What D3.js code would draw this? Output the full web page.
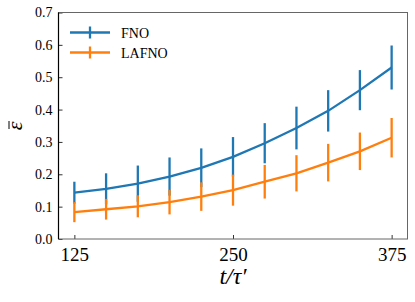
<!DOCTYPE html>
<html>
<head>
<meta charset="utf-8">
<script src="https://cdn.jsdelivr.net/npm/d3@7"></script>
<style>
  body { margin: 0; background: #fff; }
  svg text { font-family: "Liberation Serif", "Times New Roman", "DejaVu Serif", serif; }
</style>
</head>
<body>
<div id="chart"></div>
<script>
// time steps t/tau'
const steps = [125, 150, 175, 200, 225, 250, 275, 300, 325, 350, 375];

// mean error and spread
const fnoMean = [0.143, 0.155, 0.171, 0.193, 0.220, 0.254, 0.296, 0.343, 0.396, 0.460, 0.530];
const fnoErr = [0.034, 0.048, 0.056, 0.059, 0.060, 0.061, 0.062, 0.066, 0.064, 0.062, 0.068];
const lafnoMean = [0.083, 0.092, 0.101, 0.114, 0.131, 0.151, 0.177, 0.203, 0.236, 0.271, 0.313];
const lafnoErr = [0.031, 0.032, 0.034, 0.038, 0.044, 0.048, 0.052, 0.056, 0.058, 0.058, 0.061];

const xTicks = [125, 250, 375];
const yTicks = [0, 0.1, 0.2, 0.3, 0.4, 0.5, 0.6, 0.7];

const series = [
    { name: "FNO", mean: fnoMean, err: fnoErr, color: "#1f77b4" },
    { name: "LAFNO", mean: lafnoMean, err: lafnoErr, color: "#ff7f0e" },
];

const width = 415, height = 302;
const margin = { top: 12.5, right: 7.5, bottom: 63, left: 58.5 };
const innerW = width - margin.left - margin.right;
const innerH = height - margin.top - margin.bottom;

const svg = d3.select("#chart").append("svg")
    .attr("width", width)
    .attr("height", height);

const chart = svg.append("g")
    .attr("transform", `translate(${margin.left},${margin.top})`);

const xScale = d3.scaleLinear().domain([112.5, 387.5]).range([0, innerW]);
const yScale = d3.scaleLinear().domain([0, 0.7]).range([innerH, 0]);

// axes with inward ticks
const xAxis = chart.append("g")
    .attr("transform", `translate(0,${innerH})`)
    .call(d3.axisBottom(xScale).tickValues(xTicks).tickSize(-4).tickPadding(8).tickFormat(d3.format("d")));
xAxis.select(".domain").remove();
xAxis.selectAll(".tick line").attr("stroke", "#333");
xAxis.selectAll(".tick text")
    .attr("font-size", 19)
    .attr("fill", "#000")
    .attr("dy", "0.74em");

const yAxis = chart.append("g")
    .call(d3.axisLeft(yScale).tickValues(yTicks).tickSize(-4).tickPadding(6).tickFormat(d3.format(".1f")));
yAxis.select(".domain").remove();
yAxis.selectAll(".tick line").attr("stroke", "#333");
yAxis.selectAll(".tick text")
    .attr("font-size", 14)
    .attr("fill", "#000");

// spines
chart.append("rect")
    .attr("width", innerW)
    .attr("height", innerH)
    .attr("fill", "none")
    .attr("stroke", "#666")
    .attr("stroke-width", 1);
chart.append("line")
    .attr("x1", 0).attr("x2", 0)
    .attr("y1", 0).attr("y2", innerH)
    .attr("stroke", "#000")
    .attr("stroke-width", 1.2);

// series: line then error bars, orange on top
const line = d3.line()
    .x((d, i) => xScale(steps[i]))
    .y((d) => yScale(d));

series.forEach((s) => {
    const g = chart.append("g").attr("class", "series");
    g.append("path")
        .datum(s.mean)
        .attr("d", line)
        .attr("fill", "none")
        .attr("stroke", s.color)
        .attr("stroke-width", 2.3);
    g.selectAll(".err")
        .data(s.mean)
        .join("line")
        .attr("class", "err")
        .attr("x1", (d, i) => xScale(steps[i]))
        .attr("x2", (d, i) => xScale(steps[i]))
        .attr("y1", (d, i) => yScale(d - s.err[i]))
        .attr("y2", (d, i) => yScale(d + s.err[i]))
        .attr("stroke", s.color)
        .attr("stroke-width", 2.3);
});

// legend
const legend = chart.append("g").attr("transform", "translate(11.5,20)");
series.forEach((s, i) => {
    const row = legend.append("g").attr("transform", `translate(0,${i * 20})`);
    row.append("line")
        .attr("x1", 0).attr("x2", 40)
        .attr("stroke", s.color)
        .attr("stroke-width", 2.3);
    row.append("line")
        .attr("x1", 20).attr("x2", 20)
        .attr("y1", -6).attr("y2", 6)
        .attr("stroke", s.color)
        .attr("stroke-width", 2.3);
    row.append("text")
        .attr("x", 51)
        .attr("y", 5)
        .attr("font-size", 14)
        .text(s.name);
});

// axis labels
svg.append("text")
    .attr("x", margin.left + xScale(250))
    .attr("y", 284)
    .attr("text-anchor", "middle")
    .attr("font-size", 24)
    .attr("font-style", "italic")
    .text("t/τ′");

const yLab = svg.append("g").attr("transform", "translate(22,126) rotate(-90)");
yLab.append("text")
    .attr("text-anchor", "middle")
    .attr("font-size", 22)
    .attr("font-style", "italic")
    .text("ε");
yLab.append("line")
    .attr("x1", -3).attr("x2", 5)
    .attr("y1", -13).attr("y2", -13)
    .attr("stroke", "#000")
    .attr("stroke-width", 1);
</script>
</body>
</html>
